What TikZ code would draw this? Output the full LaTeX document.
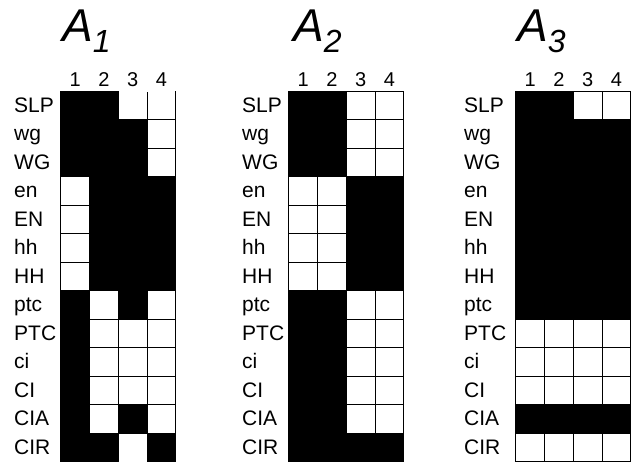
\documentclass[tikz,border=0pt]{standalone}
\usepackage{fontspec}
\setmainfont{Liberation Sans}

% index of a matrix title
\newcommand{\subidx}[1]{\raisebox{-12pt}{\fontsize{32}{32}\selectfont #1}}

% one matrix: name, left edge, x of the row labels, rows of cells (1 = black)
\newcommand{\plotmatrix}[4]{%
  \foreach \row [count=\ri] in {#4}
    \foreach \v [count=\ci] in \row
      \node[cell\v] (#1-\ri-\ci) at ({#2+(\ci-0.5)*28.75}, {91+(\ri-0.5)*28.5}) {};
  \foreach \lab [count=\ri] in {SLP,wg,WG,en,EN,hh,HH,ptc,PTC,ci,CI,CIA,CIR}
    \node[rowlabel] (#1-lab\ri) at (#3, {98+(\ri-0.5)*28.5}) {\lab};
  \foreach \ci in {1,...,4}
    \node[collabel] (#1-col\ci) at ({#2+(\ci-0.5)*28.75}, 86.5) {\ci};
}

\begin{document}
\begin{tikzpicture}[
    x=1pt, y=-1pt,
    cell/.style={
        rectangle,
        draw=black,
        line width=0.8pt,
        inner sep=0pt,
        outer sep=0pt,
        minimum width=28.75pt,
        minimum height=28.5pt
    },
    cell0/.style={cell, fill=white},
    cell1/.style={cell, fill=black},
    rowlabel/.style={anchor=base west, inner sep=0pt, font=\fontsize{21}{21}\selectfont},
    collabel/.style={anchor=base, inner sep=0pt, font=\fontsize{20}{20}\selectfont},
    title/.style={anchor=base west, inner sep=0pt, font=\fontsize{46}{46}\selectfont\itshape}
]
\useasboundingbox (0,0) rectangle (635,463);

% Titles
\node[title] (t1) at (62, 41) {A\subidx{1}};
\node[title] (t2) at (293, 41) {A\subidx{2}};
\node[title] (t3) at (517, 41) {A\subidx{3}};

% Matrix A1
\plotmatrix{a1}{60.7}{14}{{1,1,0,0},{1,1,1,0},{1,1,1,0},{0,1,1,1},{0,1,1,1},{0,1,1,1},{0,1,1,1},
    {1,0,1,0},{1,0,0,0},{1,0,0,0},{1,0,0,0},{1,0,1,0},{1,1,0,1}}

% A1 has no frame above and below its white border cells
\draw[white, line width=1.2pt, shorten <=0.4pt, shorten >=0.4pt] (a1-1-3.north west) -- (a1-1-4.north east);
\draw[white, line width=1.2pt, shorten <=0.4pt, shorten >=0.4pt] (a1-13-3.south west) -- (a1-13-3.south east);

% Matrix A2
\plotmatrix{a2}{288.7}{242}{{1,1,0,0},{1,1,0,0},{1,1,0,0},{0,0,1,1},{0,0,1,1},{0,0,1,1},{0,0,1,1},
    {1,1,0,0},{1,1,0,0},{1,1,0,0},{1,1,0,0},{1,1,0,0},{1,1,1,1}}

% Matrix A3
\plotmatrix{a3}{515.7}{464}{{1,1,0,0},{1,1,1,1},{1,1,1,1},{1,1,1,1},{1,1,1,1},{1,1,1,1},{1,1,1,1},
    {1,1,1,1},{0,0,0,0},{0,0,0,0},{0,0,0,0},{1,1,1,1},{0,0,0,0}}

\end{tikzpicture}
\end{document}
